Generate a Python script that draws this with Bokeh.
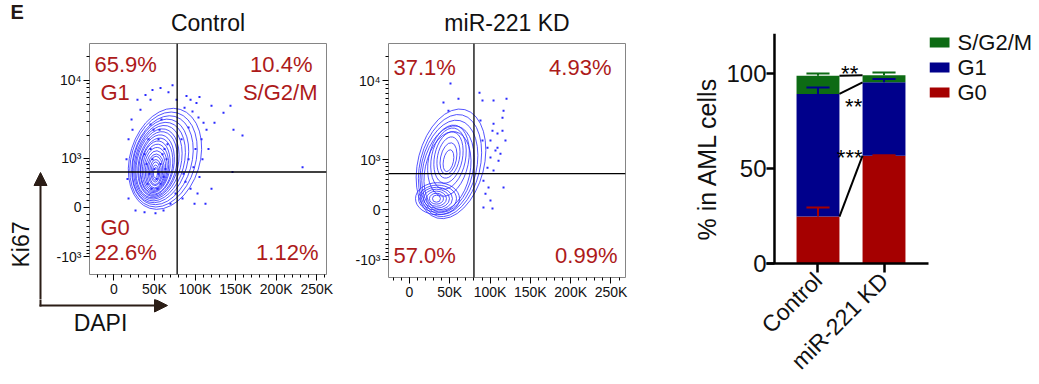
import numpy as np
from bokeh.plotting import figure
from bokeh.models import (ColumnDataSource, FixedTicker, Span, Label, Arrow, NormalHead,
                          Range1d, Title)
from bokeh.layouts import row, column
from bokeh.embed import file_html
from bokeh.resources import INLINE
from bokeh.core.properties import value

FONT = "Liberation Sans"
PCT_RED = "#ad1a1a"
FLOW_BLUE = "#2a2aff"
INK = "#111111"

# ---------------- flow cytometry panels ----------------
KI67_COFACTOR = 513.0            # arcsinh display cofactor of the Ki67 axis
panel_titles = ["Control", "miR-221 KD"]
dapi_ticks = [0, 50, 100, 150, 200, 250]            # DAPI, thousands
dapi_labels = ["0", "50K", "100K", "150K", "200K", "250K"]
ki67_ticks = [-1000, 0, 1000, 10000]
ki67_labels = ["-10³", "0", "10³", "10⁴"]
ki67_minor = [-900, -800, -700, -600, -500, -400, -300, -200, -100,
              100, 200, 300, 400, 500, 600, 700, 800, 900,
              2000, 3000, 4000, 5000, 6000, 7000, 8000, 9000, 20000]
gate_dapi = [78, 80]         # DAPI gate (K) per panel
gate_ki67 = 620              # Ki67 gate
ctrl_pct = ["65.9%", "10.4%", "22.6%", "1.12%"]   # UL, UR, LL, LR
kd_pct = ["37.1%", "4.93%", "57.0%", "0.99%"]
phase_names = ["G1", "S/G2/M", "G0"]

# contour levels (ellipse approximations): DAPI centre (K), Ki67 centre (scaled),
# DAPI width (K), Ki67 height (scaled), tilt (rad)
ctrl_cx = [63.0, 61.2, 59.9, 57.5, 56.3, 55.0, 53.8, 53.8, 52.6, 52.6, 51.3, 51.3, 51.3, 51.3, 51.3, 51.3, 51.3, 51.3, 51.3, 51.3]
ctrl_cy = [1.40, 1.38, 1.36, 1.34, 1.32, 1.30, 1.27, 1.25, 1.22, 1.19, 1.17, 1.14, 1.11, 1.08, 1.05, 1.05, 1.02, 1.02, 1.00, 1.00]
ctrl_w = [86.0, 79.0, 72.0, 66.0, 60.5, 55.5, 51.0, 46.8, 42.5, 39.0, 35.5, 32.0, 28.5, 25.0, 21.5, 18.0, 14.5, 11.0, 8.0, 5.0]
ctrl_h = [2.98, 2.80, 2.62, 2.46, 2.31, 2.16, 2.02, 1.89, 1.76, 1.63, 1.50, 1.37, 1.24, 1.11, 0.98, 0.85, 0.72, 0.58, 0.44, 0.30]
ctrl_ang = [-0.30, -0.29, -0.28, -0.27, -0.26, -0.24, -0.22, -0.20, -0.18, -0.16, -0.14, -0.12, -0.10, -0.08, -0.06, -0.05, -0.04, -0.03, -0.02, -0.02]

kd_cx = [51.5, 50.3, 49.0, 47.8, 47.2, 48.4, 48.4, 48.4, 48.4, 48.4, 48.4, 34.8, 34.8, 33.5, 33.5, 33.5, 33.5, 33.5]
kd_cy = [1.30, 1.25, 1.20, 1.15, 1.10, 1.39, 1.45, 1.48, 1.48, 1.45, 1.39, 0.31, 0.31, 0.31, 0.31, 0.31, 0.31, 0.31]
kd_w = [81.9, 74.4, 68.2, 62.0, 55.8, 49.6, 42.2, 34.7, 27.3, 19.8, 12.4, 54.6, 47.1, 39.7, 32.3, 24.8, 17.4, 9.9]
kd_h = [3.18, 2.96, 2.73, 2.50, 2.27, 2.05, 1.76, 1.48, 1.19, 0.91, 0.63, 0.91, 0.77, 0.65, 0.54, 0.43, 0.31, 0.20]
kd_ang = [-0.25, -0.24, -0.23, -0.22, -0.21, -0.20, -0.20, -0.20, -0.20, -0.20, -0.20, 0, 0, 0, 0, 0, 0, 0]

# individual events outside the dense contours: DAPI (K), Ki67 (scaled)
ctrl_dot_dapi = [89.5, 94.5, 101.8, 105.5, 87.1, 96.9, 104.3, 110.5, 114.2, 108.0, 100.6, 92.0, 98.1,
                 105.5, 88.3, 94.5, 103.1, 84.6, 112.9, 120.3, 109.2, 116.6, 120.3, 135.1, 143.7, 147.4,
                 158.5, 146.2, 232.5, 124.0, 92.0, 83.4, 85.8, 99.4,
                 29.1, 39.0, 47.6, 57.5, 67.3, 72.3, 32.8, 21.8, 18.1, 15.6, 16.8, 18.1, 26.7, 37.8,
                 51.3, 61.2, 69.8, 76.0, 23.0, 45.2, 77.2,
                 42.7, 45.2, 47.6, 50.1, 52.6, 55.0, 57.5, 60.0, 43.9, 41.5, 46.4, 53.8, 57.5, 61.2,
                 63.6, 64.9, 62.4, 55.0, 48.9, 45.2, 56.3, 58.7, 66.1, 40.2, 37.8]
ctrl_dot_ki67 = [3.21, 3.10, 3.01, 3.18, 2.87, 2.76, 2.59, 2.44, 2.24, 1.96, 1.68, 1.39, 1.16,
                 0.88, 0.74, 0.54, 0.40, 0.26, 0.11, 0.54, 1.39, 1.68, 2.93, 2.73, 2.93, 2.24,
                 2.07, 1.02, 1.16, 2.44, 2.30, 1.96, 0.97, 0.11,
                 3.10, 3.24, 3.38, 3.44, 3.32, 3.52, 2.81, 2.53, 1.96, 1.39, 0.82, 0.26, -0.09, -0.14,
                 -0.17, -0.09, 0.11, 0.40, 2.24, 3.10, 3.10,
                 1.96, 1.68, 1.39, 1.11, 0.82, 0.97, 1.25, 1.53, 0.97, 0.68, 0.54, 0.54, 0.68, 0.88,
                 1.11, 1.39, 1.68, 1.96, 2.24, 2.39, 2.24, 2.53, 1.82, 1.25, 1.53]
kd_dot_dapi = [50.9, 60.8, 42.2, 48.4, 86.9, 104.3, 120.4, 90.6, 116.7, 115.4, 104.3, 103.0, 109.2,
               119.1, 100.5, 96.8, 106.7, 112.9, 100.5, 110.5, 96.8, 104.3, 91.8, 98.1, 116.7, 94.3,
               100.5, 91.8, 103.0, 109.2, 115.4, 88.1, 90.6]
kd_dot_ki67 = [3.58, 3.15, 3.04, 2.81, 3.32, 3.10, 3.15, 3.10, 2.81, 2.61, 2.44, 2.24, 2.16,
               1.96, 1.96, 1.76, 1.68, 1.59, 1.48, 1.39, 1.19, 1.11, 0.82, 0.63, 0.63, 0.45,
               0.26, 0.06, 0.03, 1.76, 2.24, 2.53, 1.96]

# ---------------- stacked bar panel ----------------
categories = ["Control", "miR-221 KD"]
g0_pct = [24.7, 56.7]
g1_pct = [64.5, 38.6]
sg2m_pct = [9.6, 3.8]
g0_err = [4.8, 0.3]
g1_err = [3.4, 1.7]
sg2m_err = [1.2, 1.4]
sig_labels = ["***", "**", "**"]      # G0, G1, S/G2/M
legend_names = ["S/G2/M", "G1", "G0"]
C_G0, C_G1, C_S = "#a50000", "#00008b", "#0d6b14"


def ki67_scale(v):
    return float(np.arcsinh(np.asarray(v, dtype=float) / KI67_COFACTOR))


def flow_panel(title, xr, cont, dots, gdapi, pct, width, height, b_left, b_right, b_bottom, with_names):
    p = figure(width=width, height=height, x_range=Range1d(*xr), y_range=Range1d(-1.93, 4.72),
               output_backend="svg", toolbar_location=None,
               min_border_left=b_left, min_border_right=b_right,
               min_border_top=43, min_border_bottom=b_bottom)
    p.outline_line_color = "#858585"
    p.grid.visible = False
    p.title.text = title
    p.title.align = "center"
    p.title.text_font = FONT
    p.title.text_font_size = "23px"
    p.title.text_font_style = "normal"
    p.title.text_color = INK
    p.title.standoff = 15

    src = ColumnDataSource(dict(x=cont[0], y=cont[1], w=cont[2], h=cont[3], a=cont[4]))
    p.ellipse(x="x", y="y", width="w", height="h", angle="a", source=src,
              fill_color=None, line_color=FLOW_BLUE, line_width=0.8)
    p.scatter(x=dots[0], y=dots[1], marker="square", size=2, fill_color=FLOW_BLUE, line_color=None)

    p.add_layout(Span(location=gdapi, dimension="height", line_color="black", line_width=1.3))
    p.add_layout(Span(location=ki67_scale(gate_ki67), dimension="width", line_color="black", line_width=1.3))

    p.xaxis.ticker = FixedTicker(ticks=dapi_ticks, minor_ticks=list(range(-20, 270, 10)))
    p.xaxis.major_label_overrides = {t: l for t, l in zip(dapi_ticks, dapi_labels)}
    yt = [ki67_scale(v) for v in ki67_ticks]
    p.yaxis.ticker = FixedTicker(ticks=yt, minor_ticks=[ki67_scale(v) for v in ki67_minor])
    p.yaxis.major_label_overrides = {t: l for t, l in zip(yt, ki67_labels)}
    for ax in (p.xaxis, p.yaxis):
        ax.axis_line_color = None
        ax.major_tick_line_color = "black"
        ax.minor_tick_line_color = "black"
        ax.major_tick_out = 6
        ax.major_tick_in = 0
        ax.minor_tick_out = 3
        ax.minor_tick_in = 0
        ax.major_label_text_font = FONT
        ax.major_label_text_font_size = "14px"
        ax.major_label_text_color = INK
        ax.major_label_standoff = 2
    p.xaxis.major_label_standoff = 0

    # quadrant frequencies (positions in pixels from the frame's lower-left corner)
    pos = [(5, 210, "left"), (223, 210, "right"), (5, 22, "left"), (229, 22, "right")]
    for (x, y, al), t in zip(pos, pct):
        p.add_layout(Label(x=x, y=y, x_units="screen", y_units="screen", text=t, text_font=FONT,
                           text_font_size="22px", text_align=al, text_baseline="middle",
                           text_color=PCT_RED))
    if with_names:
        npos = [(11, 182, "left"), (228, 182, "right"), (11, 47, "left")]
        for (x, y, al), t in zip(npos, phase_names):
            p.add_layout(Label(x=x, y=y, x_units="screen", y_units="screen", text=t, text_font=FONT,
                               text_font_size="22px", text_align=al, text_baseline="middle",
                               text_color=PCT_RED))
    return p


p1 = flow_panel(panel_titles[0], (-30, 262),
                (ctrl_cx, ctrl_cy, ctrl_w, ctrl_h, ctrl_ang), (ctrl_dot_dapi, ctrl_dot_ki67),
                gate_dapi[0], ctrl_pct, 288, 299, 37, 14, 22, True)
p2 = flow_panel(panel_titles[1], (-26, 268),
                (kd_cx, kd_cy, kd_w, kd_h, kd_ang), (kd_dot_dapi, kd_dot_ki67),
                gate_dapi[1], kd_pct, 300, 384, 48, 15, 107, False)


def deco_figure(w, h):
    d = figure(width=w, height=h, x_range=Range1d(0, w), y_range=Range1d(h, 0),
               x_axis_type=None, y_axis_type=None, output_backend="svg", toolbar_location=None,
               min_border=0, outline_line_color=None)
    d.grid.visible = False
    return d


arrow_col = "#2b1d16"
# left strip: panel letter, Ki67 label and vertical arrow (pixel coordinates)
dl = deco_figure(52, 299)
dl.add_layout(Label(x=10, y=0, text="E", text_font=FONT, text_font_size="20px",
                    text_font_style="bold", text_color="#231815", text_baseline="top"))
dl.add_layout(Arrow(x_start=40, y_start=300, x_end=40, y_end=172, line_color=arrow_col, line_width=2,
                    end=NormalHead(size=13, fill_color=arrow_col, line_color=arrow_col)))
dl.add_layout(Label(x=20, y=244, text="Ki67", angle=np.pi / 2, text_font=FONT, text_font_size="23px",
                    text_align="center", text_baseline="middle", text_color=INK))
# bottom strip: horizontal arrow and DAPI label
db = deco_figure(340, 85)
db.segment(x0=[40], y0=[-1], x1=[40], y1=[7], line_color=arrow_col, line_width=2)
db.add_layout(Arrow(x_start=39, y_start=6, x_end=167, y_end=6, line_color=arrow_col, line_width=2,
                    end=NormalHead(size=13, fill_color=arrow_col, line_color=arrow_col)))
db.add_layout(Label(x=100, y=23, text="DAPI", text_font=FONT, text_font_size="23px",
                    text_align="center", text_baseline="middle", text_color=INK))

# ---------------- bar chart ----------------
bar_x = [1, 2]
p3 = figure(frame_width=162, frame_height=230, x_range=Range1d(0.22, 2.674), y_range=Range1d(0, 121),
            output_backend="svg", toolbar_location=None,
            min_border_left=126, min_border_right=1, min_border_top=33, min_border_bottom=121)
p3.outline_line_color = None
p3.grid.visible = False

bsrc = ColumnDataSource(dict(x=bar_x, G0=g0_pct, G1=g1_pct, S=sg2m_pct))
rs = p3.vbar_stack(["G0", "G1", "S"], x="x", width=0.65, color=[C_G0, C_G1, C_S],
                   line_color=None, source=bsrc)

g0_top = np.array(g0_pct)
g1_top = g0_top + np.array(g1_pct)
s_top = g1_top + np.array(sg2m_pct)
half_cap = 0.175
for top, err, col in ((g0_top, g0_err, C_G0), (g1_top, g1_err, C_G1), (s_top, sg2m_err, C_S)):
    end = top + np.array(err)
    p3.segment(x0=bar_x, y0=top, x1=bar_x, y1=end, line_color=col, line_width=2)
    p3.segment(x0=np.array(bar_x) - half_cap, y0=end, x1=np.array(bar_x) + half_cap, y1=end,
               line_color=col, line_width=2)

half_bar = 0.325
tops_c = [g0_top[0], g1_top[0], s_top[0]]
tops_k = [g0_top[1], g1_top[1], s_top[1]]
p3.segment(x0=[bar_x[0] + half_bar] * 3, y0=tops_c, x1=[bar_x[1] - half_bar] * 3, y1=tops_k,
           line_color="black", line_width=2)
star_y = [tops_k[0], (tops_c[1] + tops_k[1]) / 2, (tops_c[2] + tops_k[2]) / 2]
p3.text(x=[1.48, 1.54, 1.48], y=star_y, text=sig_labels, y_offset=[2, 18, -2],
        text_align="center", text_baseline="middle", text_font=value(FONT),
        text_font_size="22px", text_color="black")

p3.add_layout(Span(location=0.341, dimension="height", line_color="black", line_width=2.5))
p3.yaxis.ticker = FixedTicker(ticks=[0, 50, 100], minor_ticks=[])
p3.yaxis.axis_line_color = None
p3.yaxis.major_tick_in = 8
p3.yaxis.major_tick_out = 0
p3.yaxis.major_tick_line_width = 2.5
p3.yaxis.major_label_standoff = 0
p3.xaxis.ticker = FixedTicker(ticks=bar_x, minor_ticks=[])
p3.xaxis.major_label_overrides = {x: c for x, c in zip(bar_x, categories)}
p3.xaxis.major_label_orientation = np.pi / 4
p3.xaxis.axis_line_width = 2.5
p3.xaxis.major_tick_out = 9
p3.xaxis.major_tick_in = 0
p3.xaxis.major_tick_line_width = 2.5
p3.xaxis.major_label_standoff = 4
for ax in (p3.xaxis, p3.yaxis):
    ax.major_label_text_font = FONT
    ax.major_label_text_color = INK
p3.yaxis.major_label_text_font_size = "24px"
p3.xaxis.major_label_text_font_size = "23px"
p3.add_layout(Title(text="% in AML cells", align="left", offset=23, standoff=6,
                    text_font=FONT, text_font_size="25px", text_font_style="normal",
                    text_color=INK), "left")

# legend strip to the right of the bar chart (pixel coordinates)
dr = deco_figure(110, 384)
leg_y = [42 + 25 * i for i in range(len(legend_names))]
dr.rect(x=[10] * 3, y=leg_y, width=20, height=10, fill_color=[C_S, C_G1, C_G0], line_color=None)
dr.text(x=[28] * 3, y=leg_y, text=legend_names, text_baseline="middle", text_align="left",
        text_font=value(FONT), text_font_size="22px", text_color=INK)

layout = row(column(row(column(dl), column(p1)), db), column(p2), column(p3), column(dr))
open("out.html", "w").write(file_html(layout, INLINE))
